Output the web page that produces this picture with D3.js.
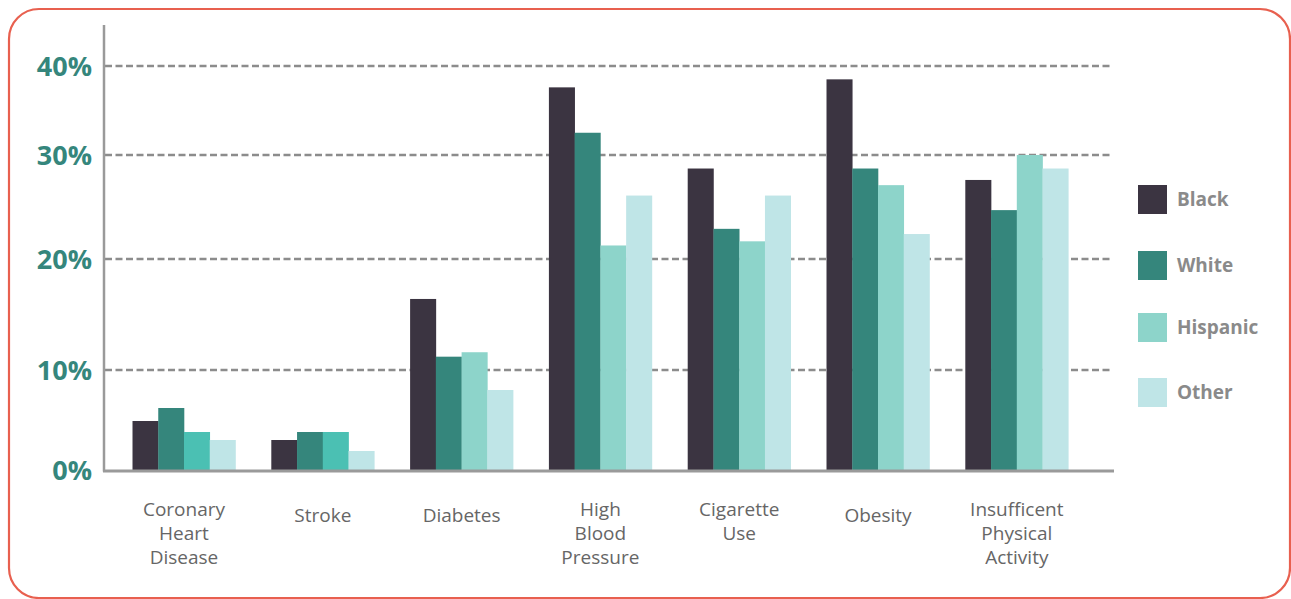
<!DOCTYPE html>
<html>
<head>
<meta charset="utf-8">
<script src="https://cdn.jsdelivr.net/npm/d3@7"></script>
<style>
  html, body { margin: 0; padding: 0; background: #ffffff; }
  svg { display: block; }
</style>
</head>
<body>
<svg id="chart" width="1291" height="599"></svg>
<script>
// ---- data ----
const categories = [
  ["Coronary", "Heart", "Disease"],
  ["Stroke"],
  ["Diabetes"],
  ["High", "Blood", "Pressure"],
  ["Cigarette", "Use"],
  ["Obesity"],
  ["Insufficent", "Physical", "Activity"]
];
const seriesNames = ["Black", "White", "Hispanic", "Other"];
const black    = [4.9, 3.0, 16.4, 37.6, 28.7, 38.5, 27.6];
const white    = [6.2, 3.8, 11.2, 32.5, 22.9, 28.7, 24.7];
const hispanic = [3.8, 3.8, 11.6, 21.3, 21.7, 27.1, 30.0];
const other    = [3.0, 1.9, 8.0, 26.1, 26.1, 22.4, 28.7];
const tickValues = [0, 10, 20, 30, 40];
const tickLabels = ["0%", "10%", "20%", "30%", "40%"];

// ---- styles ----
const colors = ["#3b3441", "#35867c", "#8dd4ca", "#bfe5e7"];
const hispanicBright = "#4bc0b3";
const series = [black, white, hispanic, other];

const svg = d3.select("#chart");

// border
svg.append("rect")
  .attr("x", 9).attr("y", 9)
  .attr("width", 1281).attr("height", 589)
  .attr("rx", 30).attr("ry", 30)
  .attr("fill", "none").attr("stroke", "#e8604f").attr("stroke-width", 2.2);

// scales
const y = d3.scaleLinear().domain(tickValues).range([470, 370, 259, 155, 66]);
const x0 = d3.scaleBand().domain(d3.range(categories.length)).range([114.6, 1086.2]).paddingInner(0.258).paddingOuter(0.129);
const x1 = d3.scaleBand().domain(d3.range(seriesNames.length)).range([0, x0.bandwidth()]);

// grid lines
svg.append("g").selectAll("line")
  .data(tickValues.filter(v => v > 0))
  .join("line")
  .attr("x1", 105).attr("x2", 1112)
  .attr("y1", d => y(d)).attr("y2", d => y(d))
  .attr("stroke", "#8c8c8c").attr("stroke-width", 2.4)
  .attr("stroke-dasharray", "7,3.5");

// bars
const groups = svg.append("g").selectAll("g")
  .data(categories.map((c, i) => i))
  .join("g")
  .attr("transform", i => `translate(${x0(i)},0)`);

groups.selectAll("rect")
  .data(i => series.map((s, j) => ({ i, j, v: s[i] })))
  .join("rect")
  .attr("x", d => x1(d.j))
  .attr("width", x1.bandwidth() + 0.3)
  .attr("y", d => y(d.v))
  .attr("height", d => y(0) - y(d.v))
  .attr("fill", d => (d.j === 2 && d.i < 2) ? hispanicBright : colors[d.j]);

// axes lines
svg.append("line").attr("x1", 104).attr("x2", 104).attr("y1", 25).attr("y2", 471.5)
  .attr("stroke", "#9a9a9a").attr("stroke-width", 2.5);
svg.append("line").attr("x1", 103).attr("x2", 1114).attr("y1", 471).attr("y2", 471)
  .attr("stroke", "#9a9a9a").attr("stroke-width", 3);

// y tick labels
svg.append("g").selectAll("text")
  .data(tickValues)
  .join("text")
  .attr("x", 92)
  .attr("y", d => y(d))
  .attr("dy", "0.36em")
  .attr("text-anchor", "end")
  .attr("font-family", "'Open Sans', sans-serif")
  .attr("font-weight", "bold")
  .attr("font-size", 27)
  .attr("fill", "#35867c")
  .text((d, i) => tickLabels[i]);

// x labels
const xl = svg.append("g").selectAll("text")
  .data(categories.map((c, i) => ({ c, i })))
  .join("text")
  .attr("text-anchor", "middle")
  .attr("font-family", "'Open Sans', sans-serif")
  .attr("font-size", 19)
  .attr("fill", "#666666")
  .attr("transform", d => `translate(${x0(d.i) + x0.bandwidth() / 2},${d.c.length === 1 ? 515 : 509})`);
xl.selectAll("tspan")
  .data(d => d.c)
  .join("tspan")
  .attr("x", 0)
  .attr("y", (t, k) => k * 24)
  .attr("dy", "0.35em")
  .text(t => t);

// legend
const legendY = [185, 251, 313, 378];
const lg = svg.append("g").selectAll("g")
  .data(seriesNames.map((n, j) => ({ n, j })))
  .join("g")
  .attr("transform", d => `translate(1138,${legendY[d.j]})`);
lg.append("rect").attr("width", 29).attr("height", 29).attr("fill", d => colors[d.j]);
lg.append("text")
  .attr("x", 39).attr("y", 14.5).attr("dy", "0.36em")
  .attr("font-family", "'Open Sans', sans-serif")
  .attr("font-weight", "bold")
  .attr("font-size", 19)
  .attr("fill", "#8a8a8a")
  .text(d => d.n);
</script>
</body>
</html>
